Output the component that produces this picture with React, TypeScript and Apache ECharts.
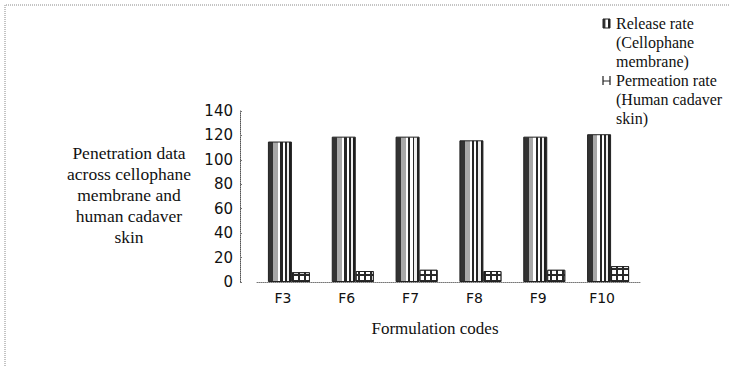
import React, { useEffect, useRef } from "react";
import * as echarts from "echarts";

const categories = ["F3", "F6", "F7", "F8", "F9", "F10"];
const releaseRate = [115, 119, 119, 116, 119, 121];
const permeationRate = [8, 9, 10, 9, 10, 13];
const yTicks = { min: 0, max: 140, interval: 20 };
const legendNames = ["Release rate\n(Cellophane\nmembrane)", "Permeation rate\n(Human cadaver\nskin)"];
const yTitle = "Penetration data\nacross cellophane\nmembrane and\nhuman cadaver\nskin";
const xTitle = "Formulation codes";

const SERIF = "'Liberation Serif', 'Times New Roman', serif";
const SANS = "'DejaVu Sans', Verdana, sans-serif";

const stripeStops = [
  [0, "#333333"], [0.22, "#333333"], [0.22, "#a8a8a8"], [0.42, "#a8a8a8"],
  [0.42, "#ffffff"], [0.52, "#ffffff"], [0.52, "#262626"], [0.62, "#262626"],
  [0.62, "#ffffff"], [0.72, "#ffffff"], [0.72, "#262626"], [0.8, "#262626"],
  [0.8, "#eeeeee"], [0.9, "#eeeeee"], [0.9, "#1e1e1e"], [1, "#1e1e1e"],
];

function stripes() {
  return new echarts.graphic.LinearGradient(
    0, 0, 1, 0,
    stripeStops.map(([offset, color]) => ({ offset: offset as number, color: color as string }))
  );
}

export default function App() {
  const ref = useRef<HTMLDivElement>(null);
  useEffect(() => {
    if (!ref.current) return;
    const chart = echarts.init(ref.current, null, { renderer: "svg" });
    chart.setOption({
      animation: false,
      backgroundColor: "#ffffff",
      grid: { left: 257, top: 111, bottom: 84, width: 383, containLabel: false },
      xAxis: {
        type: "category",
        data: categories,
        axisLine: { show: true, lineStyle: { color: "#777", type: "dotted", width: 1 } },
        axisTick: { show: false },
        axisLabel: {
          color: "#111",
          fontFamily: SANS,
          fontSize: 14,
          margin: 9,
          padding: [0, 12, 0, 0],
        },
      },
      yAxis: {
        type: "value",
        min: yTicks.min,
        max: yTicks.max,
        interval: yTicks.interval,
        offset: 17,
        splitLine: { show: false },
        axisLine: { show: true, lineStyle: { color: "#555", type: "dotted", width: 1 } },
        axisTick: { show: true, inside: true, length: 2, lineStyle: { color: "#777" } },
        axisLabel: { color: "#111", fontFamily: SANS, fontSize: 15, margin: 7 },
      },
      series: [
        {
          name: legendNames[0],
          type: "bar",
          data: releaseRate,
          barWidth: 24,
          barGap: "0%",
          itemStyle: { color: stripes(), borderColor: "#222", borderWidth: 1 },
        },
        {
          name: legendNames[1],
          type: "bar",
          data: permeationRate,
          barWidth: 18,
          barGap: "0%",
          itemStyle: {
            color: "#2a2a2a",
            borderColor: "#222",
            borderWidth: 1,
            decal: {
              symbol: "rect",
              symbolSize: 1,
              color: "#ffffff",
              dashArrayX: [4, 1.5],
              dashArrayY: [4, 1.5],
              rotation: 0,
            },
          },
        },
      ],
      graphic: [
        {
          type: "polyline",
          shape: { points: [[5, 366], [5, 5], [730, 5]] },
          style: { stroke: "#888", lineWidth: 1, lineDash: [1, 1], fill: "none" },
          silent: true,
        },
        {
          type: "text",
          x: 129,
          y: 142,
          style: {
            text: yTitle,
            font: `17.5px ${SERIF}`,
            fill: "#111",
            align: "center",
            verticalAlign: "top",
            lineHeight: 21,
          },
        },
        {
          type: "text",
          x: 435,
          y: 328,
          style: {
            text: xTitle,
            font: `17px ${SERIF}`,
            fill: "#111",
            align: "center",
            verticalAlign: "middle",
          },
        },
        // legend item 1
        {
          type: "rect",
          shape: { x: 603, y: 19, width: 7, height: 9 },
          style: { fill: stripes(), stroke: "#222", lineWidth: 1 },
        },
        {
          type: "text",
          x: 616,
          y: 14,
          style: { text: legendNames[0], font: `16px ${SERIF}`, fill: "#111", lineHeight: 19 },
        },
        // legend item 2
        {
          type: "polyline",
          shape: { points: [[603, 76], [603, 85], [603, 81], [610, 81], [610, 76], [610, 85]] },
          style: { stroke: "#222", lineWidth: 1.2, fill: "none" },
        },
        {
          type: "text",
          x: 616,
          y: 71,
          style: { text: legendNames[1], font: `16px ${SERIF}`, fill: "#111", lineHeight: 19 },
        },
      ],
    });
    return () => chart.dispose();
  }, []);
  return <div ref={ref} style={{ position: "absolute", left: 0, top: 0, width: 730, height: 366 }} />;
}
